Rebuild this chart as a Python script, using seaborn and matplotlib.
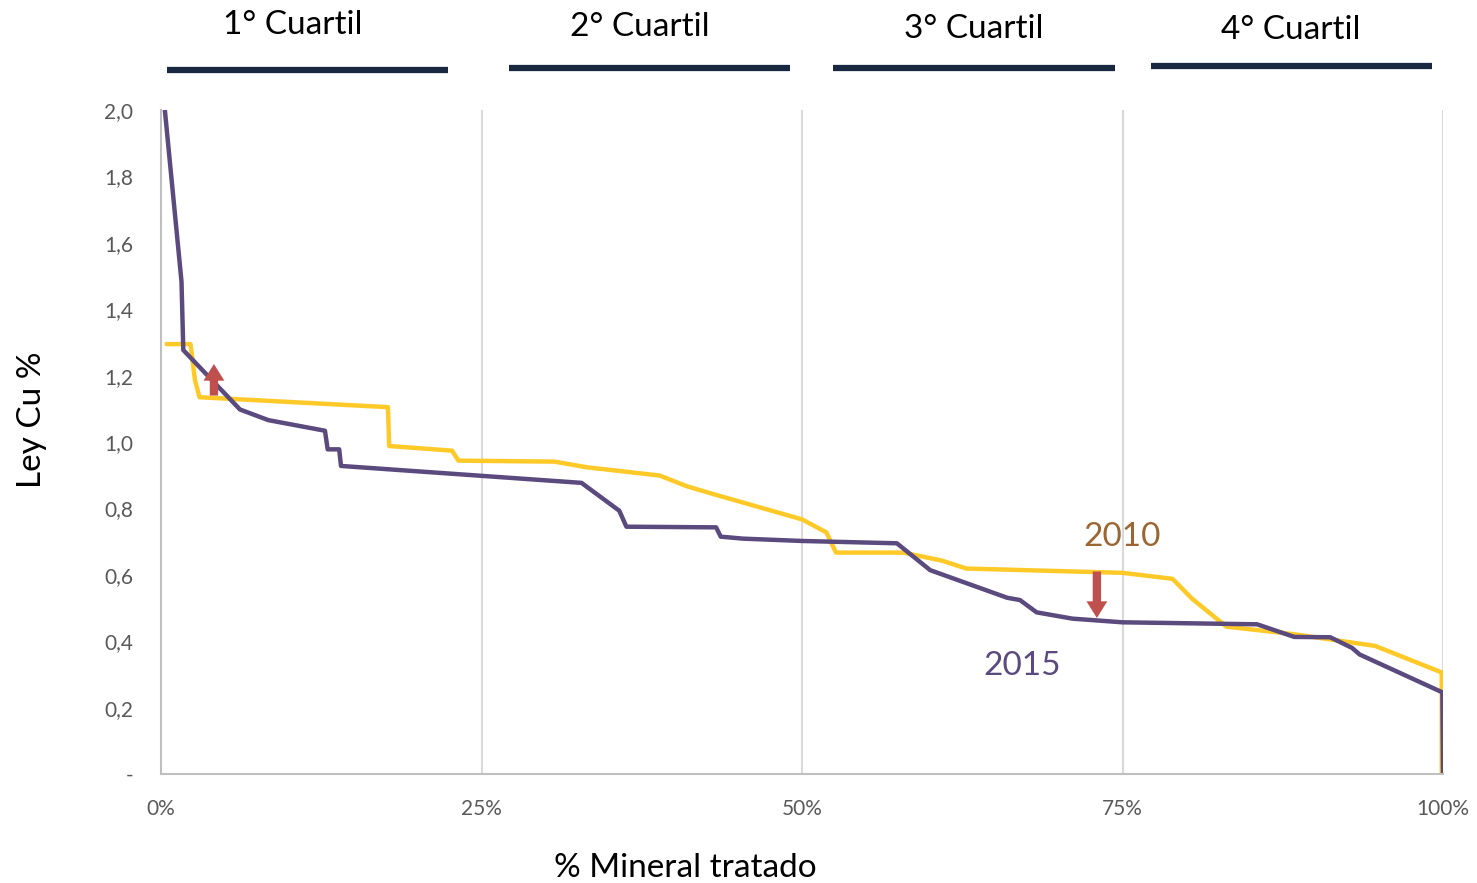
import pandas as pd
import numpy as np
import seaborn as sns
import matplotlib.pyplot as plt

# curva 2010 (amarilla) - % mineral tratado vs ley Cu %
x_2010 = [0.44, 2.3, 2.65, 3.0, 17.7, 17.8, 22.7, 23.2, 30.7, 33.2, 38.9, 41.0, 43.1,
          50.0, 51.9, 52.65, 57.9, 60.9, 62.8, 75.0, 78.9, 80.4, 83.1, 88.4, 94.7, 99.9, 99.9]
y_2010 = [1.295, 1.295, 1.187, 1.135, 1.105, 0.988, 0.974, 0.944, 0.941, 0.924, 0.899, 0.867, 0.843,
          0.767, 0.728, 0.667, 0.667, 0.643, 0.619, 0.606, 0.588, 0.529, 0.444, 0.421, 0.386, 0.306, 0.0]

# curva 2015 (morada)
x_2015 = [0.3, 1.6, 1.74, 6.16, 8.37, 12.79, 13.0, 13.9, 14.04, 32.8, 35.75, 36.3, 43.3, 43.66,
          45.4, 50.0, 57.4, 60.0, 66.0, 67.0, 68.3, 71.1, 75.0, 85.5, 88.4, 91.2, 92.9, 93.5,
          99.95, 100.0]
y_2015 = [2.0, 1.483, 1.277, 1.098, 1.066, 1.034, 0.978, 0.978, 0.928, 0.877, 0.793, 0.745, 0.743, 0.715,
          0.709, 0.702, 0.695, 0.614, 0.531, 0.524, 0.487, 0.468, 0.457, 0.451, 0.413, 0.412, 0.380, 0.360,
          0.246, 0.0]

quartiles = ['1° Cuartil', '2° Cuartil', '3° Cuartil', '4° Cuartil']
x_ticks = [0, 25, 50, 75, 100]
x_labels = ['0%', '25%', '50%', '75%', '100%']
y_ticks = [0, 0.2, 0.4, 0.6, 0.8, 1.0, 1.2, 1.4, 1.6, 1.8, 2.0]
y_labels = ['-', '0,2', '0,4', '0,6', '0,8', '1,0', '1,2', '1,4', '1,6', '1,8', '2,0']

sns.set_style('white')
plt.rcParams['font.family'] = ['Lato', 'DejaVu Sans']

yellow = '#FFC928'
purple = '#5B4A7E'
red = '#C0504D'
navy = '#172840'

df10 = pd.DataFrame({'x': x_2010, 'y': y_2010})
df15 = pd.DataFrame({'x': x_2015, 'y': y_2015})

fig = plt.figure(figsize=(14.77, 8.83), dpi=100)
ax = fig.add_axes([0.109, 0.1234, 0.868, 0.752])

for v in [25, 50, 75, 100]:
    ax.axvline(v, color='#d9d9d9', lw=1.5, zorder=0)

sns.lineplot(data=df10, x='x', y='y', sort=False, estimator=None, color=yellow, lw=3.2, ax=ax)
sns.lineplot(data=df15, x='x', y='y', sort=False, estimator=None, color=purple, lw=3.2, ax=ax)

ax.set_xlim(0, 100)
ax.set_ylim(0, 2.0)
ax.set_xticks(x_ticks)
ax.set_xticklabels(x_labels)
ax.set_yticks(y_ticks)
ax.set_yticklabels(y_labels)
ax.tick_params(axis='both', length=0, labelsize=15, labelcolor='#595959')
ax.tick_params(axis='x', pad=18)
ax.tick_params(axis='y', pad=20)
for s in ['top', 'right']:
    ax.spines[s].set_visible(False)
for s in ['left', 'bottom']:
    ax.spines[s].set_color('#bfbfbf')
    ax.spines[s].set_linewidth(1.5)

ax.set_xlabel('')
ax.set_ylabel('')
fig.text(0.4638, 0.017, '% Mineral tratado', fontsize=24, color='black', ha='center', va='center')
fig.text(0.0215, 0.5243, 'Ley Cu %', fontsize=24, color='black', ha='center', va='center',
         rotation=90)

# flechas de cambio
arrow_style = 'simple,head_width=1.5,head_length=1.2,tail_width=0.6'
ax.annotate('', xy=(4.13, 1.235), xytext=(4.13, 1.14),
            arrowprops=dict(arrowstyle=arrow_style, color=red, lw=0, mutation_scale=10,
                            shrinkA=0, shrinkB=0))
ax.annotate('', xy=(73.0, 0.47), xytext=(73.0, 0.61),
            arrowprops=dict(arrowstyle=arrow_style, color=red, lw=0, mutation_scale=10,
                            shrinkA=0, shrinkB=0))

ax.text(75.0, 0.715, '2010', fontsize=24, color='#9C6632', ha='center', va='center')
ax.text(67.2, 0.325, '2015', fontsize=24, color=purple, ha='center', va='center')

# encabezado de cuartiles
bar_x = [(0.113, 0.303), (0.3446, 0.5349), (0.564, 0.755), (0.779, 0.9695)]
bar_y = [0.9207, 0.923, 0.923, 0.925]
txt_x = [0.198, 0.433, 0.659, 0.874]
txt_y = [0.972, 0.969, 0.967, 0.966]
for i, q in enumerate(quartiles):
    fig.add_artist(plt.Line2D(bar_x[i], [bar_y[i], bar_y[i]], color=navy, lw=4.5,
                              solid_capstyle='butt', transform=fig.transFigure))
    fig.text(txt_x[i], txt_y[i], q, fontsize=24, ha='center', va='center', color='black')

fig.savefig('out.png', dpi=100)
